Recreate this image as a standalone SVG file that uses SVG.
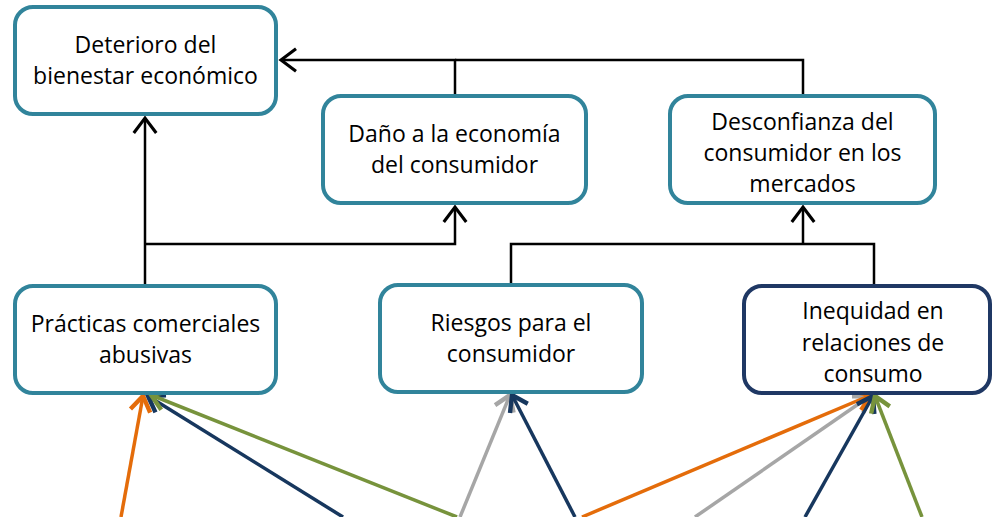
<svg xmlns="http://www.w3.org/2000/svg" width="992" height="517" viewBox="0 0 992 517">
<defs>
<style>
.box{fill:#fff;stroke:#31849B;stroke-width:4}
.box.dark{stroke:#1F3864}
text{font-family:"Open Sans","Liberation Sans",sans-serif;font-size:23px;fill:#000;text-anchor:middle}
.conn{fill:none;stroke:#000;stroke-width:2.5}
.c{fill:none;stroke-width:3.5}
</style>
<marker id="ab" markerUnits="userSpaceOnUse" markerWidth="30" markerHeight="30" viewBox="-16 -12 20 24" refX="0" refY="0" orient="auto"><path d="M-12,-9 L0,0 L-12,9" fill="none" stroke="#000" stroke-width="2.5"/></marker>
<marker id="ao" markerUnits="userSpaceOnUse" markerWidth="30" markerHeight="30" viewBox="-16 -12 20 24" refX="0" refY="0" orient="auto"><path d="M-12,-8 L0,0 L-12,8" fill="none" stroke="#E46C0A" stroke-width="3.5"/></marker>
<marker id="an" markerUnits="userSpaceOnUse" markerWidth="30" markerHeight="30" viewBox="-16 -12 20 24" refX="0" refY="0" orient="auto"><path d="M-12,-8 L0,0 L-12,8" fill="none" stroke="#17375E" stroke-width="3.5"/></marker>
<marker id="ag" markerUnits="userSpaceOnUse" markerWidth="30" markerHeight="30" viewBox="-16 -12 20 24" refX="0" refY="0" orient="auto"><path d="M-12,-8 L0,0 L-12,8" fill="none" stroke="#77933C" stroke-width="3.5"/></marker>
<marker id="ay" markerUnits="userSpaceOnUse" markerWidth="30" markerHeight="30" viewBox="-16 -12 20 24" refX="0" refY="0" orient="auto"><path d="M-12,-8 L0,0 L-12,8" fill="none" stroke="#A6A6A6" stroke-width="3.5"/></marker>
</defs>
<g id="connectors">
<path class="conn" d="M455,96 V60 H281" marker-end="url(#ab)"/>
<path class="conn" d="M803,96 V60 H455"/>
<path class="conn" d="M145,285 V118" marker-end="url(#ab)"/>
<path class="conn" d="M145,244 H455 V207" marker-end="url(#ab)"/>
<path class="conn" d="M511,284 V244 H874 V285"/>
<path class="conn" d="M803,244 V207" marker-end="url(#ab)"/>
<line class="c" stroke="#E46C0A" x1="121" y1="517" x2="143" y2="396" marker-end="url(#ao)"/>
<line class="c" stroke="#17375E" x1="343" y1="517" x2="148" y2="396" marker-end="url(#an)"/>
<line class="c" stroke="#77933C" x1="457" y1="517" x2="151" y2="395" marker-end="url(#ag)"/>
<line class="c" stroke="#A6A6A6" x1="460" y1="517" x2="510" y2="395" marker-end="url(#ay)"/>
<line class="c" stroke="#17375E" x1="575" y1="517" x2="512" y2="395" marker-end="url(#an)"/>
<line class="c" stroke="#A6A6A6" x1="695" y1="517" x2="870" y2="396" marker-end="url(#ay)"/>
<line class="c" stroke="#E46C0A" x1="582" y1="517" x2="871" y2="395" marker-end="url(#ao)"/>
<line class="c" stroke="#17375E" x1="805" y1="517" x2="873" y2="396" marker-end="url(#an)"/>
<line class="c" stroke="#77933C" x1="922" y1="517" x2="875" y2="396" marker-end="url(#ag)"/>
</g>
<g id="n1"><rect class="box" x="15" y="7" width="261" height="107" rx="18"/>
<text x="145.5" y="53">Deterioro del</text><text x="145.5" y="84">bienestar económico</text></g>
<g id="n2"><rect class="box" x="323" y="96" width="263" height="107" rx="18"/>
<text x="454.5" y="142">Daño a la economía</text><text x="454.5" y="173">del consumidor</text></g>
<g id="n3"><rect class="box" x="670" y="96" width="265" height="107" rx="18"/>
<text x="802.5" y="130">Desconfianza del</text><text x="802.5" y="161">consumidor en los</text><text x="802.5" y="192">mercados</text></g>
<g id="n4"><rect class="box" x="15" y="286" width="261" height="107" rx="18"/>
<text x="145.5" y="332">Prácticas comerciales</text><text x="145.5" y="363">abusivas</text></g>
<g id="n5"><rect class="box" x="380" y="285" width="262" height="107" rx="18"/>
<text x="511" y="331">Riesgos para el</text><text x="511" y="362">consumidor</text></g>
<g id="n6"><rect class="box dark" x="744" y="286" width="246" height="107" rx="18"/>
<text x="873" y="319">Inequidad en</text><text x="873" y="351">relaciones de</text><text x="873" y="382">consumo</text></g>
</svg>
